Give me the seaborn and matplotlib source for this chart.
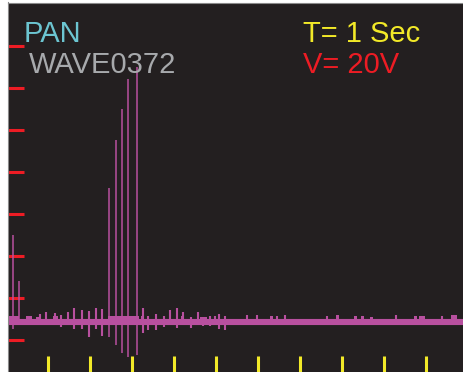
import numpy as np
import pandas as pd
import matplotlib
matplotlib.use("Agg")
from matplotlib import pyplot as plt
import seaborn as sns

# scope settings: 1 sec per x division, 20 V per y division
x_ticks = [1, 2, 3, 4, 5, 6, 7, 8, 9, 10]
y_ticks = [0, 20, 40, 60, 80, 100, 120, 140]
baseline = 8.6

# thin spikes: time (s), peak above baseline (V), dip below baseline (V)
spike_t = [0.16, 0.31, 0.80, 0.95, 1.17, 1.31, 1.48, 1.62, 1.81, 1.98, 2.14, 2.29,
           2.46, 2.61, 2.77, 2.91, 3.13, 3.26, 3.38, 3.57, 3.76, 3.90, 4.07, 4.21,
           4.40, 4.57, 4.69, 4.86, 4.98, 5.07, 5.21, 5.74, 5.98, 6.45, 6.64, 7.64,
           9.29, 10.38]
spike_hi = [41.4, 19.5, 3.8, 4.8, 4.3, 3.3, 4.8, 6.7, 5.7, 5.2, 6.7, 6.2,
            63.8, 86.7, 101.4, 115.7, 121.4, 6.7, 2.9, 3.8, 2.9, 5.7, 6.7, 4.8,
            2.4, 4.8, 2.4, 2.9, 2.9, 3.8, 2.9, 3.3, 3.3, 2.9, 3.3, 2.9,
            3.3, 2.9]
spike_lo = [-3.3, -1.0, 0, 0, 0, -2.4, 0, -3.3, -3.3, -7.1, -3.3, -6.7,
            -7.1, -11.0, -14.8, -16.7, -15.7, -5.2, -3.8, -3.8, -2.4, -1.4, -2.9, 0,
            -2.9, 0, -1.9, -1.9, 0, -3.3, -3.8, 0, 0, 0, 0, 0,
            0, 0]

# wider blocks sitting on the trace
bump_t = [0.19, 0.55, 0.75, 1.17, 1.81, 2.80, 3.26, 4.21, 4.70, 6.33, 7.90,
          8.33, 8.48, 8.71, 9.76, 9.90, 10.67]
bump_w = [0.24, 0.14, 0.07, 0.12, 0.07, 0.74, 0.07, 0.07, 0.17, 0.07, 0.07,
          0.07, 0.07, 0.07, 0.07, 0.14, 0.14]
bump_h = [2.9, 2.9, 2.4, 2.9, 2.9, 2.9, 2.9, 2.9, 2.4, 2.9, 3.3,
          2.9, 2.9, 2.4, 2.9, 2.9, 3.3]

trace = pd.DataFrame({"t": [0.07, 10.9], "v": [baseline, baseline]})

bg = "#231f20"
wave = "#b8509f"

sns.set_style("dark")
plt.rcParams["font.family"] = ["Liberation Sans", "DejaVu Sans"]

fig = plt.figure(figsize=(4.63, 3.72), dpi=100, facecolor="white")
ax = fig.add_axes([7.5 / 463, 0, 455.5 / 463, 369.5 / 372])
ax.set_facecolor(bg)

sns.lineplot(data=trace, x="t", y="v", ax=ax, color=wave, linewidth=4.4)
ax.vlines(spike_t[:2] + spike_t[12:17],
          [baseline + v for v in spike_lo[:2] + spike_lo[12:17]],
          [baseline + v for v in spike_hi[:2] + spike_hi[12:17]],
          color=wave, linewidth=1.1)
small = list(range(2, 12)) + list(range(17, len(spike_t)))
ax.vlines([spike_t[i] for i in small],
          [baseline + spike_lo[i] for i in small],
          [baseline + spike_hi[i] for i in small],
          color=wave, linewidth=1.5)
ax.bar(bump_t, bump_h, width=bump_w, bottom=baseline, color=wave, linewidth=0)

ax.set_xlim((7.5 - 6) / 42, (463 - 6) / 42)
ax.set_ylim((340 - 372) / 42 * 20, (340 - 2.5) / 42 * 20)
ax.set_xticks(x_ticks)
ax.set_yticks(y_ticks)
ax.grid(False)
ax.set_xlabel("")
ax.set_ylabel("")
ax.tick_params(axis="x", direction="in", length=11.5, width=2.2,
               color="#f2e928", labelbottom=False, bottom=True)
ax.tick_params(axis="y", direction="in", length=11.5, width=2.2,
               color="#ed1c24", labelleft=False, left=True)
for side in ["bottom", "right"]:
    ax.spines[side].set_visible(False)
for side in ["left", "top"]:
    ax.spines[side].set_visible(True)
    ax.spines[side].set_color("#8a8a8a")
    ax.spines[side].set_linewidth(0.8)

H = 372
fs = 21
fig.text(24 / 463, 1 - 42 / H, "PAN", color="#6cc5d1", fontsize=fs, va="baseline")
fig.text(29 / 463, 1 - 73 / H, "WAVE0372", color="#a7a9ac", fontsize=fs, va="baseline")
fig.text(303 / 463, 1 - 42 / H, "T= 1 Sec", color="#f2e928", fontsize=fs, va="baseline")
fig.text(303 / 463, 1 - 73 / H, "V= 20V", color="#ed1c24", fontsize=fs, va="baseline")

fig.savefig("out.png", dpi=100, facecolor="white")
